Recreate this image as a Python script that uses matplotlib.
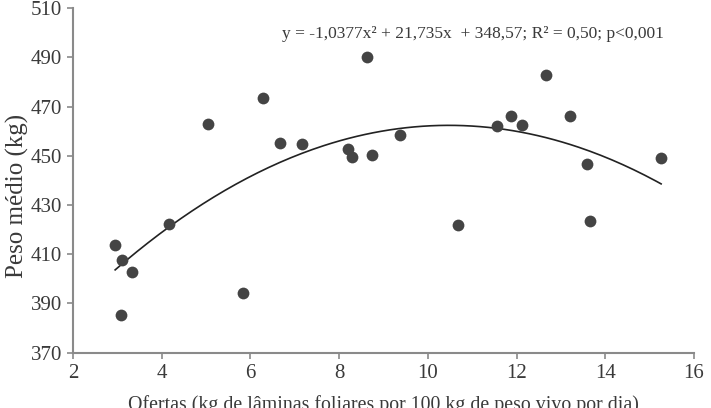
import numpy as np
import matplotlib
matplotlib.use('Agg')
import matplotlib.pyplot as plt

# Dados
oferta = [2.95, 3.10, 3.08, 3.33, 4.16, 5.04, 5.83, 6.28, 6.67, 7.16, 8.20, 8.29,
          8.63, 8.74, 9.37, 10.68, 11.56, 11.87, 12.12, 12.66, 13.20, 13.59, 13.65, 15.26]
peso = [413.7, 407.6, 385.3, 402.8, 422.3, 462.9, 394.2, 473.4, 455.2, 454.8, 452.7, 449.5,
        490.1, 450.3, 458.4, 421.9, 462.1, 466.1, 462.5, 482.8, 466.1, 446.6, 423.5, 449.1]

# coeficientes da equação mostrada
coef = [-1.0377, 21.735, 348.57]
equacao = 'y = -1,0377x² + 21,735x  + 348,57; R² = 0,50; p<0,001'

x_ticks = [2, 4, 6, 8, 10, 12, 14, 16]
y_ticks = [370, 390, 410, 430, 450, 470, 490, 510]

plt.rcParams['font.family'] = ['Liberation Serif', 'DejaVu Serif']
cor_eixo = '#8a8a8a'
cor_texto = '#3a3a3a'

fig = plt.figure(figsize=(7.11, 4.08), dpi=100)
ax = fig.add_axes([0.1027, 0.1355, 0.8733, 0.8445])

ax.scatter(oferta, peso, s=72, color='#444444', zorder=3, linewidths=0)

xc = np.linspace(min(oferta), max(oferta), 200)
ax.plot(xc, np.polyval(coef, xc), color='#222222', lw=1.2)

ax.set_xlim(2, 16)
ax.set_ylim(370, 510)
ax.set_xticks(x_ticks)
ax.set_yticks(y_ticks)

for s in ['top', 'right']:
    ax.spines[s].set_visible(False)
for s in ['left', 'bottom']:
    ax.spines[s].set_color(cor_eixo)
    ax.spines[s].set_linewidth(1.5)
ax.tick_params(direction='out', length=4, width=1.2, color=cor_eixo,
               labelsize=15, labelcolor=cor_texto, pad=4)

ax.text(0.337, 0.925, equacao, transform=ax.transAxes, fontsize=12.5,
        color=cor_texto, ha='left', va='center')

fig.text(0.024, 0.52, 'Peso médio (kg)', rotation=90, ha='center', va='center',
         fontsize=18, color=cor_texto)
fig.text(0.539, -0.004, 'Ofertas (kg de lâminas foliares por 100 kg de peso vivo por dia)',
         ha='center', va='baseline', fontsize=14.3, color=cor_texto)

fig.savefig('out.png', dpi=100)
